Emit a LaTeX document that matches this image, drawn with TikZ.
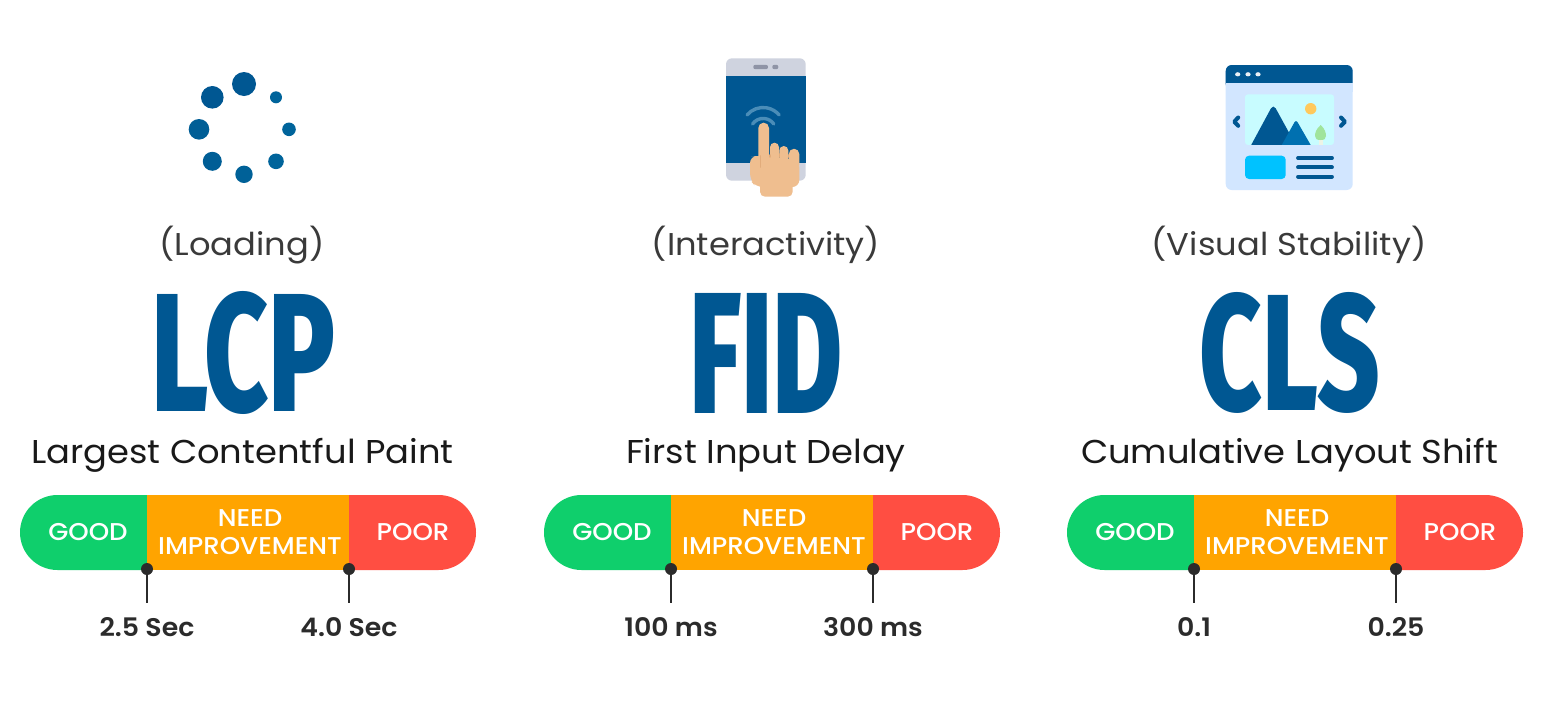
\documentclass[tikz,border=0pt]{standalone}
\usepackage{fontspec}
\usepackage{graphicx}
\setmainfont[FakeStretch=1.07]{Poppins}
\newfontfamily\medf[FakeStretch=1.07]{Poppins Medium}
\newfontfamily\semif[FakeStretch=1.05]{Poppins SemiBold}
\newfontfamily\bigf{Fira Sans ExtraBold}
\definecolor{navy}{HTML}{005792}
\definecolor{midblue}{HTML}{0070B0}
\definecolor{txt}{HTML}{3A3A3A}
\definecolor{ink}{HTML}{2B2B2B}
\definecolor{goodc}{HTML}{0FCF6C}
\definecolor{needc}{HTML}{FFA400}
\definecolor{poorc}{HTML}{FF4E42}
\definecolor{bezel}{HTML}{CFD3DF}
\definecolor{speaker}{HTML}{8F94A6}
\definecolor{skin}{HTML}{EFBE8F}
\definecolor{skind}{HTML}{E2AC7B}
\definecolor{wave}{HTML}{4A8DB8}
\definecolor{pale}{HTML}{D2E6FF}
\definecolor{sky}{HTML}{C8FCFF}
\definecolor{sun}{HTML}{FFC95C}
\definecolor{leaf}{HTML}{A0E49C}
\definecolor{trunk}{HTML}{EDF3E6}
\definecolor{cyanbox}{HTML}{00C2FF}
\tikzset{
 sub/.style={inner sep=0pt,text=txt,font=\fontsize{31.5}{32}\selectfont},
 metricname/.style={inner sep=0pt,text=black!90,font=\fontsize{33}{34}\selectfont},
 bartext/.style={inner sep=0pt,text=white,align=center,font=\medf\fontsize{24.3}{28}\selectfont},
 tickdot/.style={circle,fill=ink,inner sep=0pt,minimum size=12pt},
 ticktext/.style={anchor=north,inner sep=0pt,text height=33pt,text depth=0pt,text=ink,font=\semif\fontsize{25.5}{28}\selectfont},
 tickline/.style={draw=ink,line width=2pt},
 biglet/.style={inner sep=0pt,text=navy},
}
\newcommand{\metricbar}[4]{%
 \begin{scope}[xshift=#1pt]
 \fill[goodc] (127,495) -- (37.5,495) arc[start angle=270,end angle=90,radius=37.5] -- (127,570) -- cycle;
 \fill[needc] (127,495) rectangle (329,570);
 \fill[poorc] (329,495) -- (418.5,495) arc[start angle=-90,end angle=90,radius=37.5] -- (329,570) -- cycle;
 \node[bartext] (good#2) at (68,532) {GOOD};
 \node[bartext] (need#2) at (230,532) {NEED\\IMPROVEMENT};
 \node[bartext] (poor#2) at (393,532) {POOR};
 \node[tickdot] (dota#2) at (127,569) {};
 \node[tickdot] (dotb#2) at (329,569) {};
 \node[ticktext] (vala#2) at (127,603) {#3};
 \node[ticktext] (valb#2) at (329,603) {#4};
 \draw[tickline] (dota#2.center) -- (vala#2.north);
 \draw[tickline] (dotb#2.center) -- (valb#2.north);
 \end{scope}}
\newcommand{\bigword}[5]{\node[biglet] (#1) at (#2,353) {\resizebox{#3pt}{#4pt}{\bigf #5}};}
\begin{document}
\begin{tikzpicture}[x=1pt,y=-1pt]
\useasboundingbox (0,0) rectangle (1544,702);
\fill[white] (0,0) rectangle (1544,702);
% spinner
\fill[navy] (244,84) circle[radius=12];
\fill[navy] (212.3,97.3) circle[radius=11.3];
\fill[navy!96!cyan] (199,129.3) circle[radius=10.3];
\fill[navy!96!cyan] (212.3,161.3) circle[radius=9.5];
\fill[navy!94!cyan] (244,174.3) circle[radius=8.7];
\fill[navy!92!cyan] (276,161.3) circle[radius=7.8];
\fill[navy!92!cyan] (289,129.3) circle[radius=6.8];
\fill[navy!92!cyan] (276,97.3) circle[radius=6];
% phone
\fill[bezel,rounded corners=6pt] (726,58.3) rectangle (805.7,180.7);
\fill[navy] (726,75.7) rectangle (805.7,163.3);
\fill[speaker,rounded corners=2pt] (753.3,64.8) rectangle (768,69.2);
\fill[speaker,rounded corners=2pt] (772.3,64.8) rectangle (778.3,69.2);
\draw[wave,line width=3.4pt,line cap=round] (747,115) arc[start angle=220,end angle=320,radius=21];
\draw[wave,line width=3.4pt,line cap=round] (752.5,124) arc[start angle=215,end angle=325,radius=13];
\fill[skin,rounded corners=5pt] (760,170) rectangle (792.7,196.7);
\fill[skin,rounded corners=7pt] (750,156) -- (758,156) -- (799.3,160) -- (799.3,187) -- (756,187) -- (750,180) -- cycle;
\fill[skin] (758.3,160) -- (758.3,128) arc[start angle=180,end angle=360,radius=5.35] -- (769,165) -- cycle;
\fill[skin] (770,165) -- (770,147.2) arc[start angle=180,end angle=360,radius=4.5] -- (779,165) -- cycle;
\fill[skin] (779.3,165) -- (779.3,150.5) arc[start angle=180,end angle=360,radius=4.5] -- (788.3,165) -- cycle;
\fill[skin] (788.8,165) -- (788.8,154) arc[start angle=180,end angle=360,radius=5.25] -- (799.3,165) -- cycle;
\draw[skind,line width=1.6pt,line cap=round] (760.5,156) -- (760.5,167);
\draw[skind,line width=1.6pt,line cap=round] (770,155) -- (770,157);
\draw[skind,line width=1.6pt,line cap=round] (779.3,154) -- (779.3,157);
\draw[skind,line width=1.6pt,line cap=round] (788.6,155) -- (788.6,157);
% browser
\fill[pale,rounded corners=6pt] (1225.7,65) rectangle (1352.7,190);
\fill[navy,rounded corners=6pt] (1225.7,90) -- (1225.7,65) -- (1352.7,65) -- (1352.7,90) -- cycle;
\fill[pale] (1225.7,83.3) rectangle (1352.7,92);
\foreach \dx in {1237.7,1248,1258} \fill[white!92!navy] (\dx,74.3) ellipse[x radius=2.6,y radius=2.1];
\fill[sky,rounded corners=3pt] (1245,94.3) rectangle (1334,145);
\fill[navy,rounded corners=5pt] (1249,149) -- (1273.3,104) -- (1298,149) -- cycle;
\fill[midblue,rounded corners=3pt] (1279.5,149) -- (1296,119.5) -- (1313,149) -- cycle;
\fill[trunk] (1318.5,139) rectangle (1322.5,145);
\fill[pale] (1245,145) rectangle (1334,150);
\fill[sun] (1310.7,108.7) circle[radius=5.7];
\fill[leaf] (1320.7,125) .. controls (1316,129) and (1315,133) .. (1315,136) .. controls (1315,139) and (1317,140) .. (1320.7,140) .. controls (1324,140) and (1326,139) .. (1326,136) .. controls (1326,133) and (1325,129) .. (1320.7,125) -- cycle;
\draw[navy,line width=4pt,line cap=round,line join=round] (1238.2,117.5) -- (1234.2,121.7) -- (1238.2,125.8);
\draw[navy,line width=4pt,line cap=round,line join=round] (1341,117.5) -- (1345,121.7) -- (1341,125.8);
\fill[cyanbox,rounded corners=4pt] (1245,155.7) rectangle (1285.7,179);
\foreach \ly in {158,167.3,176.7} \draw[navy,line width=3.8pt,line cap=round] (1298,\ly) -- (1332,\ly);
% sub labels
\node[sub] (s1) at (242,245) {(Loading)};
\node[sub] (s2) at (766,245) {(Interactivity)};
\node[sub] (s3) at (1289,245) {(Visual Stability)};
% big letters
\bigword{w1}{243.5}{184}{120}{LCP}
\bigword{w2}{766}{154}{120}{FID}
\bigword{w3}{1290}{180}{118}{CLS}
% names
\node[metricname] (n1) at (242.5,455) {Largest Contentful Paint};
\node[metricname] (n2) at (766,455) {First Input Delay};
\node[metricname] (n3) at (1289.5,455) {Cumulative Layout Shift};
% bars
\metricbar{20}{A}{2.5 Sec}{4.0 Sec}
\metricbar{544}{B}{100 ms}{300 ms}
\metricbar{1067}{C}{0.1}{0.25}
\end{tikzpicture}
\end{document}
